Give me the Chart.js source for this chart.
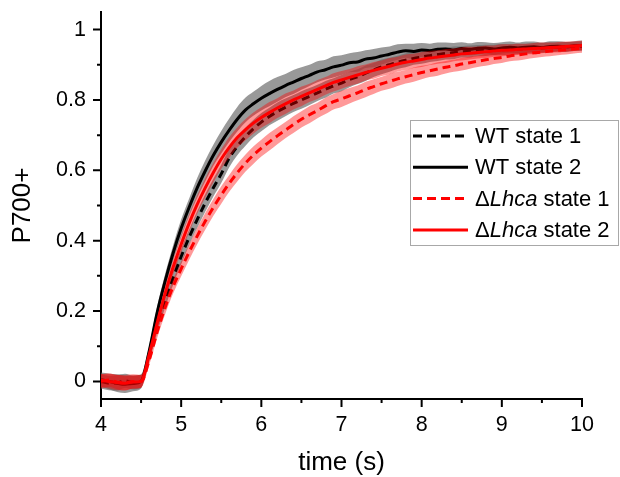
<!DOCTYPE html>
<html>
<head>
<meta charset="utf-8">
<script src="https://cdn.jsdelivr.net/npm/chart.js@4.4.1/dist/chart.umd.min.js"></script>
<style>
  html, body { margin: 0; padding: 0; background: #fff; }
  #wrap { width: 620px; height: 477px; position: relative; }
</style>
</head>
<body>
<div id="wrap"><canvas id="grafico"></canvas></div>
<script>
// tempo (s)
const tempos = [4.0, 4.1, 4.2, 4.3, 4.4, 4.5, 4.6, 4.7, 4.8, 4.9,
  5.0, 5.1, 5.2, 5.3, 5.4, 5.5, 5.6, 5.7, 5.8, 5.9,
  6.0, 6.1, 6.2, 6.3, 6.4, 6.5, 6.6, 6.7, 6.8, 6.9,
  7.0, 7.1, 7.2, 7.3, 7.4, 7.5, 7.6, 7.7, 7.8, 7.9,
  8.0, 8.1, 8.2, 8.3, 8.4, 8.5, 8.6, 8.7, 8.8, 8.9,
  9.0, 9.1, 9.2, 9.3, 9.4, 9.5, 9.6, 9.7, 9.8, 9.9, 10.0];

// P700+ medias
const wtEstado1 = [0.0, -0.005, -0.004, 0.002, -0.003, 0.0, 0.07, 0.155, 0.23, 0.295,
  0.355, 0.41, 0.46, 0.507, 0.55, 0.59, 0.635, 0.668, 0.695, 0.718,
  0.737, 0.753, 0.767, 0.779, 0.79, 0.80, 0.81, 0.82, 0.83, 0.84,
  0.848, 0.858, 0.866, 0.876, 0.885, 0.894, 0.90, 0.907, 0.913, 0.918,
  0.922, 0.926, 0.929, 0.932, 0.934, 0.937, 0.938, 0.94, 0.941, 0.942,
  0.943, 0.944, 0.945, 0.946, 0.947, 0.948, 0.949, 0.95, 0.951, 0.952, 0.953];
const wtEstado2 = [0.005, 0.0, -0.005, -0.008, -0.006, 0.0, 0.085, 0.195, 0.285, 0.365,
  0.435, 0.495, 0.55, 0.598, 0.642, 0.68, 0.714, 0.745, 0.771, 0.789,
  0.805, 0.818, 0.83, 0.841, 0.851, 0.861, 0.87, 0.88, 0.886, 0.894,
  0.899, 0.906, 0.908, 0.916, 0.919, 0.925, 0.93, 0.936, 0.94, 0.938,
  0.942, 0.94, 0.944, 0.945, 0.942, 0.946, 0.944, 0.947, 0.948, 0.945,
  0.948, 0.95, 0.948, 0.95, 0.951, 0.949, 0.952, 0.953, 0.951, 0.954, 0.955];
const lhcaEstado1 = [0.0, 0.004, -0.002, -0.004, 0.0, 0.0, 0.06, 0.14, 0.21, 0.27,
  0.32, 0.368, 0.413, 0.455, 0.494, 0.53, 0.563, 0.593, 0.62, 0.643,
  0.663, 0.681, 0.698, 0.714, 0.73, 0.745, 0.758, 0.77, 0.783, 0.795,
  0.803, 0.812, 0.82, 0.83, 0.838, 0.846, 0.853, 0.86, 0.866, 0.872,
  0.878, 0.883, 0.888, 0.893, 0.897, 0.902, 0.906, 0.91, 0.914, 0.918,
  0.921, 0.925, 0.928, 0.931, 0.934, 0.936, 0.939, 0.941, 0.943, 0.945, 0.947];
const lhcaEstado2 = [0.003, 0.0, -0.003, -0.005, -0.002, 0.0, 0.075, 0.165, 0.25, 0.325,
  0.39, 0.45, 0.503, 0.55, 0.593, 0.632, 0.665, 0.693, 0.715, 0.734,
  0.75, 0.764, 0.777, 0.789, 0.80, 0.81, 0.82, 0.83, 0.84, 0.85,
  0.857, 0.864, 0.871, 0.878, 0.884, 0.89, 0.896, 0.902, 0.907, 0.911,
  0.915, 0.919, 0.922, 0.925, 0.928, 0.931, 0.933, 0.935, 0.937, 0.939,
  0.941, 0.942, 0.944, 0.945, 0.946, 0.948, 0.949, 0.95, 0.952, 0.953, 0.955];

// desvio (faixas sombreadas)
const sdWt1 = [0.02, 0.02, 0.022, 0.02, 0.02, 0.018, 0.015, 0.018, 0.02, 0.02,
  0.022, 0.022, 0.024, 0.025, 0.025, 0.026, 0.026, 0.025, 0.026, 0.025,
  0.026, 0.025, 0.026, 0.025, 0.024, 0.025, 0.024, 0.023, 0.024, 0.022,
  0.023, 0.022, 0.021, 0.022, 0.02, 0.021, 0.02, 0.019, 0.02, 0.018,
  0.019, 0.018, 0.018, 0.017, 0.018, 0.016, 0.017, 0.016, 0.016, 0.015,
  0.016, 0.015, 0.015, 0.014, 0.015, 0.014, 0.014, 0.013, 0.014, 0.013, 0.013];
const sdWt2 = [0.02, 0.022, 0.025, 0.025, 0.022, 0.02, 0.015, 0.018, 0.02, 0.022,
  0.025, 0.025, 0.028, 0.03, 0.03, 0.032, 0.033, 0.035, 0.035, 0.034,
  0.035, 0.036, 0.035, 0.033, 0.034, 0.032, 0.03, 0.03, 0.028, 0.03,
  0.028, 0.027, 0.028, 0.025, 0.026, 0.024, 0.022, 0.022, 0.02, 0.022,
  0.02, 0.02, 0.019, 0.018, 0.02, 0.018, 0.017, 0.018, 0.016, 0.017,
  0.016, 0.016, 0.015, 0.016, 0.015, 0.014, 0.015, 0.014, 0.014, 0.013, 0.014];
const sdLhca1 = [0.02, 0.019, 0.02, 0.022, 0.02, 0.018, 0.015, 0.017, 0.019, 0.02,
  0.021, 0.022, 0.023, 0.024, 0.024, 0.025, 0.024, 0.025, 0.024, 0.025,
  0.024, 0.025, 0.024, 0.023, 0.024, 0.023, 0.024, 0.022, 0.023, 0.022,
  0.023, 0.022, 0.021, 0.022, 0.021, 0.02, 0.021, 0.02, 0.019, 0.02,
  0.019, 0.018, 0.019, 0.018, 0.017, 0.018, 0.017, 0.016, 0.017, 0.016,
  0.016, 0.015, 0.016, 0.015, 0.015, 0.014, 0.015, 0.014, 0.014, 0.013, 0.013];
const sdLhca2 = [0.018, 0.02, 0.022, 0.02, 0.019, 0.018, 0.015, 0.018, 0.02, 0.022,
  0.024, 0.025, 0.026, 0.027, 0.028, 0.028, 0.03, 0.029, 0.03, 0.03,
  0.029, 0.03, 0.028, 0.029, 0.027, 0.028, 0.026, 0.027, 0.025, 0.026,
  0.025, 0.024, 0.025, 0.023, 0.024, 0.022, 0.023, 0.021, 0.022, 0.02,
  0.021, 0.02, 0.019, 0.02, 0.018, 0.019, 0.018, 0.017, 0.018, 0.016,
  0.017, 0.016, 0.016, 0.015, 0.016, 0.015, 0.014, 0.015, 0.014, 0.014, 0.013];

// eixos
const ticksX = [4, 5, 6, 7, 8, 9, 10];
const ticksXMenor = [4.5, 5.5, 6.5, 7.5, 8.5, 9.5];
const ticksY = [0, 0.2, 0.4, 0.6, 0.8, 1];
const ticksYMenor = [0.1, 0.3, 0.5, 0.7, 0.9];

const fonte = 'Arial, "Liberation Sans", sans-serif';
const cinza = 'rgba(105, 105, 105, 0.68)';
const rosa = 'rgba(255, 0, 0, 0.4)';

function pontos(vals) {
  return tempos.map((t, i) => ({ x: t, y: vals[i] }));
}
function borda(vals, sd, sinal) {
  return tempos.map((t, i) => ({ x: t, y: vals[i] + sinal * sd[i] }));
}
function linha(vals, cor, dash, ordem) {
  return {
    data: pontos(vals), borderColor: cor, borderWidth: 3, borderDash: dash,
    pointRadius: 0, fill: false, cubicInterpolationMode: 'monotone', order: ordem
  };
}
function faixa(vals, sd, cor, ordem) {
  return [
    { data: borda(vals, sd, 1), borderWidth: 0, pointRadius: 0, fill: false, order: ordem, cubicInterpolationMode: 'monotone' },
    { data: borda(vals, sd, -1), borderWidth: 0, pointRadius: 0, fill: '-1', backgroundColor: cor, order: ordem, cubicInterpolationMode: 'monotone' }
  ];
}

// legenda desenhada a mao (Lhca em italico)
const entradas = [
  { cor: '#000', dash: [9, 5], partes: [['WT state 1', false]] },
  { cor: '#000', dash: [], partes: [['WT state 2', false]] },
  { cor: '#ff0000', dash: [9, 5], partes: [['\u0394', false], ['Lhca', true], [' state 1', false]] },
  { cor: '#ff0000', dash: [], partes: [['\u0394', false], ['Lhca', true], [' state 2', false]] }
];

const legendaPlugin = {
  id: 'legenda',
  afterDraw(chart) {
    const ctx = chart.ctx;
    ctx.save();
    ctx.fillStyle = '#fff';
    ctx.fillRect(410, 120, 209, 126);
    ctx.strokeStyle = '#a8a8a8';
    ctx.lineWidth = 1;
    ctx.strokeRect(410.5, 120.5, 208, 125);
    entradas.forEach((e, i) => {
      const y = 136 + i * 31.3;
      ctx.beginPath();
      ctx.setLineDash(e.dash);
      ctx.strokeStyle = e.cor;
      ctx.lineWidth = 3;
      ctx.moveTo(413, y);
      ctx.lineTo(468, y);
      ctx.stroke();
      ctx.setLineDash([]);
      let x = 475;
      ctx.fillStyle = '#000';
      ctx.textBaseline = 'middle';
      e.partes.forEach(([txt, ital]) => {
        ctx.font = (ital ? 'italic ' : '') + '22px ' + fonte;
        ctx.fillText(txt, x, y + 1);
        x += ctx.measureText(txt).width;
      });
    });
    ctx.restore();
  }
};

// marcas dos eixos (maiores e menores, para fora)
const marcasPlugin = {
  id: 'marcas',
  afterDraw(chart) {
    const ctx = chart.ctx;
    const sx = chart.scales.x, sy = chart.scales.y;
    const a = chart.chartArea;
    ctx.save();
    ctx.strokeStyle = '#000';
    ctx.lineWidth = 2;
    ctx.beginPath();
    ticksY.forEach(v => { const p = sy.getPixelForValue(v); ctx.moveTo(a.left - 8, p); ctx.lineTo(a.left, p); });
    ticksYMenor.forEach(v => { const p = sy.getPixelForValue(v); ctx.moveTo(a.left - 4, p); ctx.lineTo(a.left, p); });
    ticksX.forEach(v => { const p = sx.getPixelForValue(v); ctx.moveTo(p, a.bottom); ctx.lineTo(p, a.bottom + 8); });
    ticksXMenor.forEach(v => { const p = sx.getPixelForValue(v); ctx.moveTo(p, a.bottom); ctx.lineTo(p, a.bottom + 4); });
    ctx.stroke();
    ctx.restore();
  }
};

const datasets = [
  linha(lhcaEstado2, '#ff0000', [], 0),
  linha(lhcaEstado1, '#ff0000', [8, 5], 1),
  ...faixa(lhcaEstado1, sdLhca1, rosa, 2),
  ...faixa(lhcaEstado2, sdLhca2, rosa, 2),
  linha(wtEstado2, '#000', [], 3),
  linha(wtEstado1, '#000', [8, 5], 4),
  ...faixa(wtEstado1, sdWt1, cinza, 5),
  ...faixa(wtEstado2, sdWt2, cinza, 5)
];

new Chart(document.getElementById('grafico'), {
  type: 'line',
  data: { datasets },
  options: {
    responsive: true,
    maintainAspectRatio: false,
    animation: false,
    layout: { padding: { left: 0, right: 38, top: 12, bottom: 0 } },
    plugins: { legend: { display: false }, tooltip: { enabled: false } },
    scales: {
      x: {
        type: 'linear', min: 4, max: 10,
        afterBuildTicks: s => { s.ticks = ticksX.map(v => ({ value: v })); },
        afterFit: s => { s.height = 78; s.paddingLeft = 0; s.paddingRight = 0; },
        grid: { display: false, drawTicks: false },
        border: { display: true, color: '#000', width: 2 },
        ticks: { color: '#000', font: { family: fonte, size: 21.5 }, padding: 13, maxRotation: 0 },
        title: { display: true, text: 'time (s)', color: '#000', font: { family: fonte, size: 26, lineHeight: 1 }, padding: { top: 0, bottom: 1 } }
      },
      y: {
        type: 'linear', min: -0.05, max: 1.05,
        afterBuildTicks: s => { s.ticks = ticksY.map(v => ({ value: v })); },
        afterFit: s => { s.width = 101; s.paddingTop = 0; s.paddingBottom = 0; },
        grid: { display: false, drawTicks: false },
        border: { display: true, color: '#000', width: 2 },
        ticks: { color: '#000', font: { family: fonte, size: 21.5 }, padding: 15, callback: v => String(+v.toFixed(1)) },
        title: { display: true, text: 'P700+', color: '#000', font: { family: fonte, size: 26, lineHeight: 1 }, padding: { top: 10, bottom: 0 } }
      }
    }
  },
  plugins: [marcasPlugin, legendaPlugin]
});
</script>
</body>
</html>
